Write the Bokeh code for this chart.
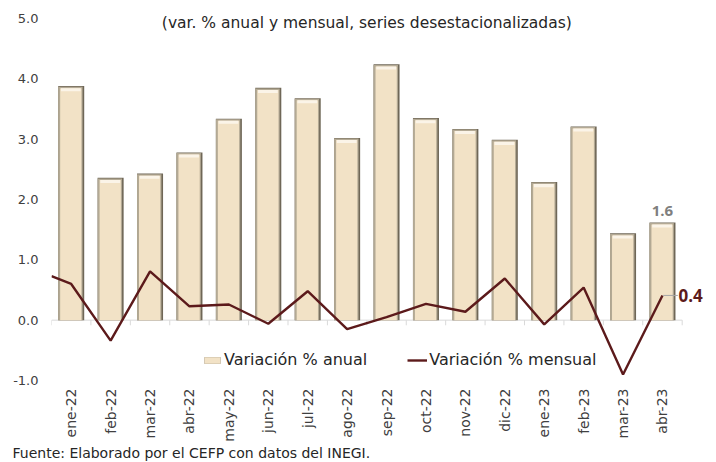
import math
from bokeh.plotting import figure
from bokeh.models import Range1d, FixedTicker, Label, Legend, LegendItem, NumeralTickFormatter, Title
from bokeh.embed import file_html
from bokeh.resources import INLINE

# ---------------- data ----------------
months = ["ene-22", "feb-22", "mar-22", "abr-22", "may-22", "jun-22", "jul-22", "ago-22",
          "sep-22", "oct-22", "nov-22", "dic-22", "ene-23", "feb-23", "mar-23", "abr-23"]
anual = [3.88, 2.36, 2.43, 2.78, 3.34, 3.85, 3.68, 3.02,
         4.24, 3.35, 3.17, 2.99, 2.29, 3.21, 1.44, 1.62]
mensual_prev = 0.73  # previous month (dic-21), drawn at the left edge
mensual = [0.60, -0.34, 0.81, 0.23, 0.26, -0.06, 0.48, -0.15,
           0.05, 0.27, 0.14, 0.69, -0.07, 0.54, -0.90, 0.41]
y_ticks = [-1, 0, 1, 2, 3, 4, 5]
label_anual = "1.6"
label_mensual = "0.4"
title_text = "(var. % anual y mensual, series desestacionalizadas)"
footer_text = "Fuente: Elaborado por el CEFP con datos del INEGI."

FONT = "DejaVu Sans"
NUMFONT = "Open Sans"
TXT = "#404040"
LINE_C = "#5C1A1B"

n = len(months)
xs = list(range(n))

p = figure(width=716, height=462, output_backend="svg", toolbar_location=None,
           x_range=Range1d(-0.5, 16.32), y_range=Range1d(-1, 5.265),
           min_border_left=51, min_border_right=2, min_border_top=2, min_border_bottom=82)
p.outline_line_color = None
p.xgrid.visible = False
p.ygrid.visible = False
p.background_fill_color = "white"
p.border_fill_color = "white"

# x axis: month labels only
xa = p.xaxis[0]
xa.ticker = FixedTicker(ticks=xs)
xa.major_label_overrides = {i: m for i, m in enumerate(months)}
xa.major_label_orientation = math.pi / 2
xa.axis_line_color = None
xa.major_tick_line_color = None
xa.minor_tick_line_color = None
xa.major_tick_out = 0
xa.major_tick_in = 0
xa.minor_tick_out = 0
xa.minor_tick_in = 0
xa.major_label_standoff = 8
xa.major_label_text_font = FONT
xa.major_label_text_font_size = "14px"
xa.major_label_text_color = TXT

# y axis
ya = p.yaxis[0]
ya.ticker = FixedTicker(ticks=y_ticks)
ya.formatter = NumeralTickFormatter(format="0.0")
ya.axis_line_color = None
ya.major_tick_line_color = None
ya.minor_tick_line_color = None
ya.major_tick_out = 0
ya.major_tick_in = 0
ya.minor_tick_out = 0
ya.minor_tick_in = 0
ya.major_label_standoff = 13
ya.major_label_text_font = FONT
ya.major_label_text_font_size = "13px"
ya.major_label_text_color = TXT

# zero line with category-boundary ticks
bounds = [i - 0.5 for i in range(n + 1)]
p.segment(x0=[bounds[0]], y0=[0], x1=[bounds[-1]], y1=[0], line_color="#D9D9D9", line_width=1)
p.segment(x0=bounds, y0=[0] * len(bounds), x1=bounds, y1=[-0.085] * len(bounds),
          line_color="#D9D9D9", line_width=1)

# bars with bevel look
base = p.vbar(x=xs, top=anual, bottom=0, width=0.66, fill_color="#6F6757", line_color=None)
left_edge = p.vbar(x=[x - 0.02 for x in xs], top=[a - 0.01 for a in anual], bottom=0,
                   width=0.62, fill_color="#B3A994", line_color=None)
inner = p.vbar(x=[x - 0.01 for x in xs], top=[a - 0.035 for a in anual], bottom=0,
               width=0.54, fill_color="#F2E2C6", line_color=None)
topband = p.vbar(x=[x - 0.01 for x in xs], top=[a - 0.035 for a in anual],
                 bottom=[a - 0.085 for a in anual],
                 width=0.50, fill_color="#FBF4E8", line_color=None)

# monthly line
line = p.line(x=[-0.5] + xs, y=[mensual_prev] + mensual, line_color=LINE_C, line_width=2.4)

# data labels
p.add_layout(Label(x=xs[-1], y=anual[-1], text=label_anual, text_align="center",
                   text_baseline="bottom", y_offset=6, text_color="#7F7F7F",
                   text_font=NUMFONT, text_font_style="bold", text_font_size="15px"))
p.segment(x0=[xs[-1] + 0.02], y0=[mensual[-1]], x1=[xs[-1] + 0.39], y1=[mensual[-1]],
          line_color="#A6A6A6", line_width=1)
p.add_layout(Label(x=xs[-1], y=mensual[-1], text=label_mensual, text_align="left",
                   text_baseline="middle", x_offset=16, text_color=LINE_C,
                   text_font=NUMFONT, text_font_style="bold", text_font_size="17px"))

# chart subtitle inside the plot
p.add_layout(Label(x=(n - 1) / 2, y=4.93, text=title_text, text_align="center",
                   text_baseline="middle", text_color="#262626",
                   text_font=FONT, text_font_size="15.5px"))

# footer
p.add_layout(Title(text=footer_text, align="left", vertical_align="top", offset=-39, standoff=0,
                   text_font=FONT, text_font_size="14px", text_font_style="normal",
                   text_color="#262626"), "below")

legend = Legend(items=[LegendItem(label="Variación % anual", renderers=[base, left_edge, inner]),
                       LegendItem(label="Variación % mensual", renderers=[line])],
                orientation="horizontal", location=(151, 11),
                background_fill_alpha=0, border_line_color=None,
                label_text_font=FONT, label_text_font_size="16px", label_text_color="#262626",
                glyph_width=20, glyph_height=8, label_standoff=2, spacing=40,
                padding=0, margin=0)
p.add_layout(legend)

open("out.html", "w").write(file_html(p, INLINE))
